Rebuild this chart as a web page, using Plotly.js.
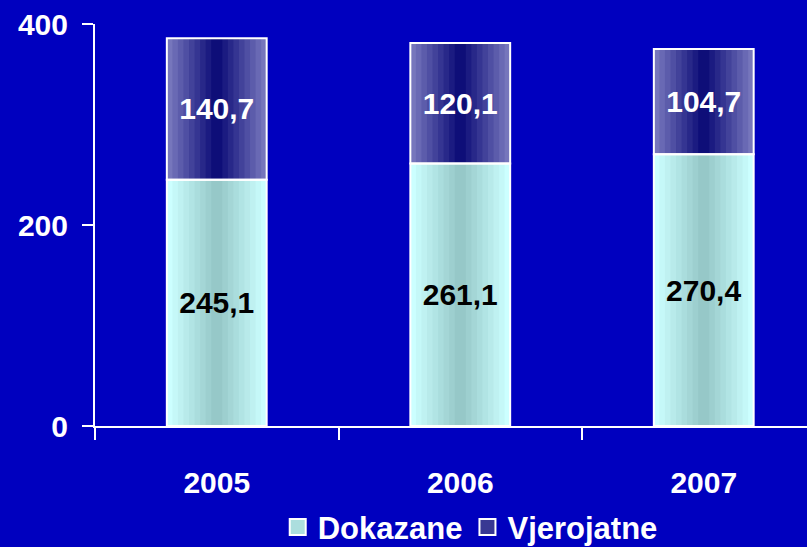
<!DOCTYPE html>
<html>
<head>
<meta charset="utf-8">
<script src="https://cdn.plot.ly/plotly-3.0.1.min.js"></script>
<style>html,body{margin:0;padding:0;background:#0000BF;}#chart{width:807px;height:547px;}</style>
</head>
<body>
<div id="chart"></div>
<script>
const years = ['2005', '2006', '2007'];
const dokazane = [245.1, 261.1, 270.4];
const vjerojatne = [140.7, 120.1, 104.7];
const seriesNames = ['Dokazane', 'Vjerojatne'];
const yTicks = [0, 200, 400];

const BG = '#0000BF';
const FONT = 'Liberation Sans, Arial, sans-serif';
const BAR_W = 0.41;
const STEPS = 9;

function lerp(a, b, t) { return Math.round(a + (b - a) * t); }
function col(c1, c2, t) { return 'rgb(' + lerp(c1[0], c2[0], t) + ',' + lerp(c1[1], c2[1], t) + ',' + lerp(c1[2], c2[2], t) + ')'; }
function fmt(v) { return v.toFixed(1).replace('.', ','); }

const palettes = [
  { edge: [204, 255, 255], center: [150, 200, 200] },
  { edge: [118, 118, 188], center: [14, 14, 120] }
];
const bases = [dokazane.map(() => 0), dokazane];
const values = [dokazane, vjerojatne];
const textColors = ['#000000', '#FFFFFF'];

const traces = [];
for (let s = 0; s < 2; s++) {
  for (let k = 0; k < STEPS; k++) {
    const t = k / (STEPS - 1);
    traces.push({
      type: 'bar', x: years, y: values[s], base: bases[s],
      width: BAR_W * (1 - k / STEPS),
      name: seriesNames[s], legendgroup: seriesNames[s], showlegend: false,
      marker: { color: col(palettes[s].edge, palettes[s].center, t), line: { width: 0 } },
      hoverinfo: 'skip'
    });
  }
}
for (let s = 0; s < 2; s++) {
  traces.push({
    type: 'bar', x: years, y: values[s], base: bases[s], width: BAR_W,
    name: seriesNames[s], legendgroup: seriesNames[s], showlegend: false,
    marker: { color: 'rgba(0,0,0,0)', line: { color: '#FFFFFF', width: 2 } },
    text: values[s].map(fmt), textposition: 'inside', insidetextanchor: 'middle',
    textangle: 0, constraintext: 'none',
    textfont: { family: FONT, size: 30, weight: 'bold', color: textColors[s] },
    hoverinfo: 'skip'
  });
}
// legend entries (square swatches)
for (let s = 0; s < 2; s++) {
  traces.push({
    type: 'scatter', mode: 'markers', x: [null], y: [null],
    name: seriesNames[s], legendgroup: seriesNames[s], showlegend: true,
    marker: { symbol: 'square', size: 16,
              color: col(palettes[s].edge, palettes[s].center, 0.6),
              line: { color: '#FFFFFF', width: 2 } },
    hoverinfo: 'skip'
  });
}

const layout = {
  width: 807, height: 547,
  paper_bgcolor: BG, plot_bgcolor: BG,
  margin: { l: 95, r: 0, t: 24, b: 121, autoexpand: false },
  barmode: 'overlay',
  showlegend: true,
  legend: {
    orientation: 'h', x: 0.527, xanchor: 'center', y: -0.252, yanchor: 'middle',
    font: { family: FONT, size: 31, weight: 'bold', color: '#FFFFFF' },
    bgcolor: 'rgba(0,0,0,0)', traceorder: 'normal', itemwidth: 30, itemsizing: 'trace'
  },
  font: { family: FONT, color: '#FFFFFF' },
  xaxis: {
    type: 'category', range: [-0.5, 2.424],
    showline: true, linecolor: '#FFFFFF', linewidth: 2,
    ticks: 'outside', tickson: 'boundaries', ticklen: 12, tickwidth: 2, tickcolor: '#FFFFFF',
    ticklabelstandoff: 29,
    tickfont: { family: FONT, size: 30, weight: 'bold', color: '#FFFFFF' },
    showgrid: false, zeroline: false, fixedrange: true
  },
  yaxis: {
    range: [0, 400], tickvals: yTicks, ticktext: yTicks.map(String),
    showline: true, linecolor: '#FFFFFF', linewidth: 2,
    ticks: 'outside', ticklen: 11, tickwidth: 2, tickcolor: '#FFFFFF',
    ticklabelstandoff: 8,
    tickfont: { family: FONT, size: 30, weight: 'bold', color: '#FFFFFF' },
    showgrid: false, zeroline: false, fixedrange: true
  }
};

Plotly.newPlot('chart', traces, layout, { displayModeBar: false, staticPlot: true });
</script>
</body>
</html>
